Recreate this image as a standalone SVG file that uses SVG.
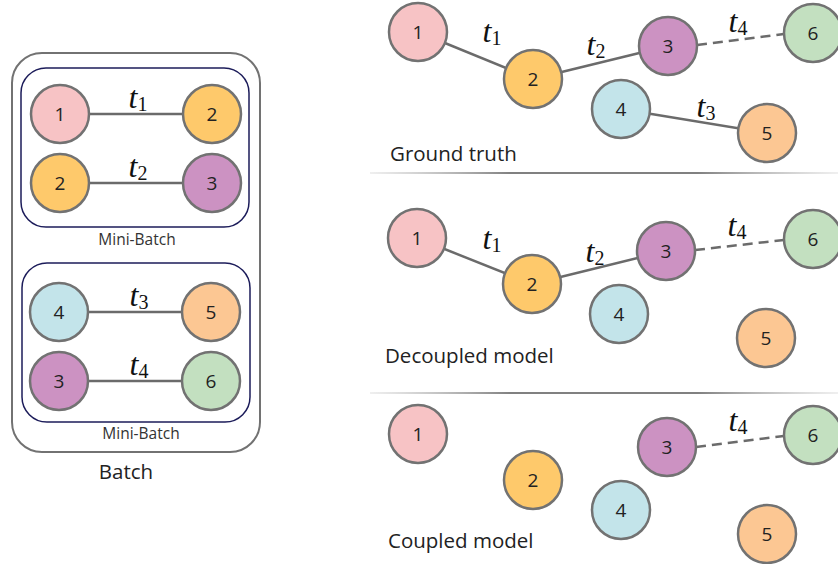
<svg xmlns="http://www.w3.org/2000/svg" width="838" height="564" viewBox="0 0 838 564">
  <defs>
    <linearGradient id="sep" x1="0" y1="0" x2="1" y2="0">
      <stop offset="0" stop-color="#b0b0b0" stop-opacity="0.2"/>
      <stop offset="0.3" stop-color="#808080"/>
      <stop offset="0.7" stop-color="#808080"/>
      <stop offset="1" stop-color="#b0b0b0" stop-opacity="0.2"/>
    </linearGradient>
  </defs>
  <style>
    .node circle { stroke: #727272; stroke-width: 2.5; }
    .node text { font-family: "Open Sans", "Noto Sans", sans-serif; font-size: 19px; fill: #222; text-anchor: middle; dominant-baseline: central; }
    .n1 { fill: #f7c3c5; }
    .n2 { fill: #fec96b; }
    .n3 { fill: #cc92c2; }
    .n4 { fill: #c3e4ea; }
    .n5 { fill: #fcc793; }
    .n6 { fill: #c3e0c0; }
    .edge { stroke: #6b6b6b; stroke-width: 2.5; fill: none; }
    .dash { stroke-dasharray: 10 6; }
    .tl { font-family: "Liberation Serif", "DejaVu Serif", serif; font-size: 32px; fill: #111; text-anchor: middle; }
    .tl .v { font-style: italic; }
    .tl .s { font-size: 20px; }
    .cap { font-family: "Open Sans", "Noto Sans", sans-serif; font-size: 20.5px; fill: #222; }
    .mb { font-family: "Open Sans", "Noto Sans", sans-serif; font-size: 15.5px; fill: #333; text-anchor: middle; }
    .batch { fill: none; stroke: #727272; stroke-width: 2; }
    .minibatch { fill: none; stroke: #1c1c5a; stroke-width: 1.5; }
  </style>

  <!-- left: batch made of two mini-batches -->
  <rect class="batch" x="12" y="53" width="248" height="399" rx="30"/>
  <rect class="minibatch" x="21" y="68" width="228" height="159" rx="25"/>
  <rect class="minibatch" x="22" y="263" width="228" height="159" rx="25"/>
  <text class="mb" x="137" y="245">Mini-Batch</text>
  <text class="mb" x="141" y="439">Mini-Batch</text>
  <text class="cap" x="126" y="479" text-anchor="middle">Batch</text>

  <!-- separators between panels -->
  <rect x="370" y="172" width="468" height="2" fill="url(#sep)"/>
  <rect x="370" y="392" width="468" height="2" fill="url(#sep)"/>

  <!-- connectors -->
  <g id="connectors">
    <line class="edge" x1="89" y1="114" x2="183" y2="114"/>
    <line class="edge" x1="89" y1="183" x2="183" y2="183"/>
    <line class="edge" x1="89" y1="312" x2="183" y2="312"/>
    <line class="edge" x1="89" y1="381" x2="183" y2="381"/>

    <line class="edge" x1="418" y1="32" x2="533" y2="79"/>
    <line class="edge" x1="533" y1="79" x2="668" y2="46"/>
    <line class="edge dash" x1="697" y1="45" x2="784" y2="34"/>
    <line class="edge" x1="621" y1="109" x2="767" y2="133"/>

    <line class="edge" x1="417" y1="238" x2="532" y2="284"/>
    <line class="edge" x1="532" y1="284" x2="666" y2="251"/>
    <line class="edge dash" x1="695" y1="250" x2="784" y2="240"/>

    <line class="edge dash" x1="696" y1="447" x2="784" y2="436"/>
  </g>

  <!-- edge labels -->
  <g id="labels">
    <text class="tl" x="138" y="108"><tspan class="v">t</tspan><tspan class="s" dy="3">1</tspan></text>
    <text class="tl" x="138" y="177"><tspan class="v">t</tspan><tspan class="s" dy="3">2</tspan></text>
    <text class="tl" x="139" y="306"><tspan class="v">t</tspan><tspan class="s" dy="3">3</tspan></text>
    <text class="tl" x="139" y="375"><tspan class="v">t</tspan><tspan class="s" dy="3">4</tspan></text>

    <text class="tl" x="492" y="42"><tspan class="v">t</tspan><tspan class="s" dy="3">1</tspan></text>
    <text class="tl" x="596" y="55"><tspan class="v">t</tspan><tspan class="s" dy="3">2</tspan></text>
    <text class="tl" x="738" y="32"><tspan class="v">t</tspan><tspan class="s" dy="3">4</tspan></text>
    <text class="tl" x="706" y="117"><tspan class="v">t</tspan><tspan class="s" dy="3">3</tspan></text>

    <text class="tl" x="492" y="249"><tspan class="v">t</tspan><tspan class="s" dy="3">1</tspan></text>
    <text class="tl" x="595" y="262"><tspan class="v">t</tspan><tspan class="s" dy="3">2</tspan></text>
    <text class="tl" x="737" y="236"><tspan class="v">t</tspan><tspan class="s" dy="3">4</tspan></text>

    <text class="tl" x="738" y="431"><tspan class="v">t</tspan><tspan class="s" dy="3">4</tspan></text>
  </g>

  <!-- left nodes -->
  <g id="b1" class="node"><circle class="n1" cx="60" cy="114" r="29"/><text x="60" y="114">1</text></g>
  <g id="b2" class="node"><circle class="n2" cx="212" cy="114" r="29"/><text x="212" y="114">2</text></g>
  <g id="b2b" class="node"><circle class="n2" cx="60" cy="183" r="29"/><text x="60" y="183">2</text></g>
  <g id="b3" class="node"><circle class="n3" cx="212" cy="183" r="29"/><text x="212" y="183">3</text></g>
  <g id="b4" class="node"><circle class="n4" cx="59" cy="312" r="29"/><text x="59" y="312">4</text></g>
  <g id="b5" class="node"><circle class="n5" cx="211" cy="312" r="29"/><text x="211" y="312">5</text></g>
  <g id="b3b" class="node"><circle class="n3" cx="59" cy="381" r="29"/><text x="59" y="381">3</text></g>
  <g id="b6" class="node"><circle class="n6" cx="211" cy="381" r="29"/><text x="211" y="381">6</text></g>

  <!-- ground truth -->
  <g id="g1" class="node"><circle class="n1" cx="418" cy="32" r="29"/><text x="418" y="32">1</text></g>
  <g id="g2" class="node"><circle class="n2" cx="533" cy="79" r="29"/><text x="533" y="79">2</text></g>
  <g id="g3" class="node"><circle class="n3" cx="668" cy="46" r="29"/><text x="668" y="46">3</text></g>
  <g id="g6" class="node"><circle class="n6" cx="813" cy="33" r="29"/><text x="813" y="33">6</text></g>
  <g id="g4" class="node"><circle class="n4" cx="621" cy="109" r="29"/><text x="621" y="109">4</text></g>
  <g id="g5" class="node"><circle class="n5" cx="767" cy="133" r="29"/><text x="767" y="133">5</text></g>
  <text class="cap" x="390" y="161">Ground truth</text>

  <!-- decoupled model -->
  <g id="d1" class="node"><circle class="n1" cx="417" cy="238" r="29"/><text x="417" y="238">1</text></g>
  <g id="d2" class="node"><circle class="n2" cx="532" cy="284" r="29"/><text x="532" y="284">2</text></g>
  <g id="d3" class="node"><circle class="n3" cx="666" cy="251" r="29"/><text x="666" y="251">3</text></g>
  <g id="d6" class="node"><circle class="n6" cx="813" cy="239" r="29"/><text x="813" y="239">6</text></g>
  <g id="d4" class="node"><circle class="n4" cx="619" cy="314" r="29"/><text x="619" y="314">4</text></g>
  <g id="d5" class="node"><circle class="n5" cx="766" cy="338" r="29"/><text x="766" y="338">5</text></g>
  <text class="cap" x="385" y="363">Decoupled model</text>

  <!-- coupled model -->
  <g id="c1" class="node"><circle class="n1" cx="418" cy="434" r="29"/><text x="418" y="434">1</text></g>
  <g id="c2" class="node"><circle class="n2" cx="533" cy="480" r="29"/><text x="533" y="480">2</text></g>
  <g id="c3" class="node"><circle class="n3" cx="667" cy="447" r="29"/><text x="667" y="447">3</text></g>
  <g id="c6" class="node"><circle class="n6" cx="813" cy="435" r="29"/><text x="813" y="435">6</text></g>
  <g id="c4" class="node"><circle class="n4" cx="621" cy="510" r="29"/><text x="621" y="510">4</text></g>
  <g id="c5" class="node"><circle class="n5" cx="767" cy="534" r="29"/><text x="767" y="534">5</text></g>
  <text class="cap" x="388" y="548">Coupled model</text>
</svg>
